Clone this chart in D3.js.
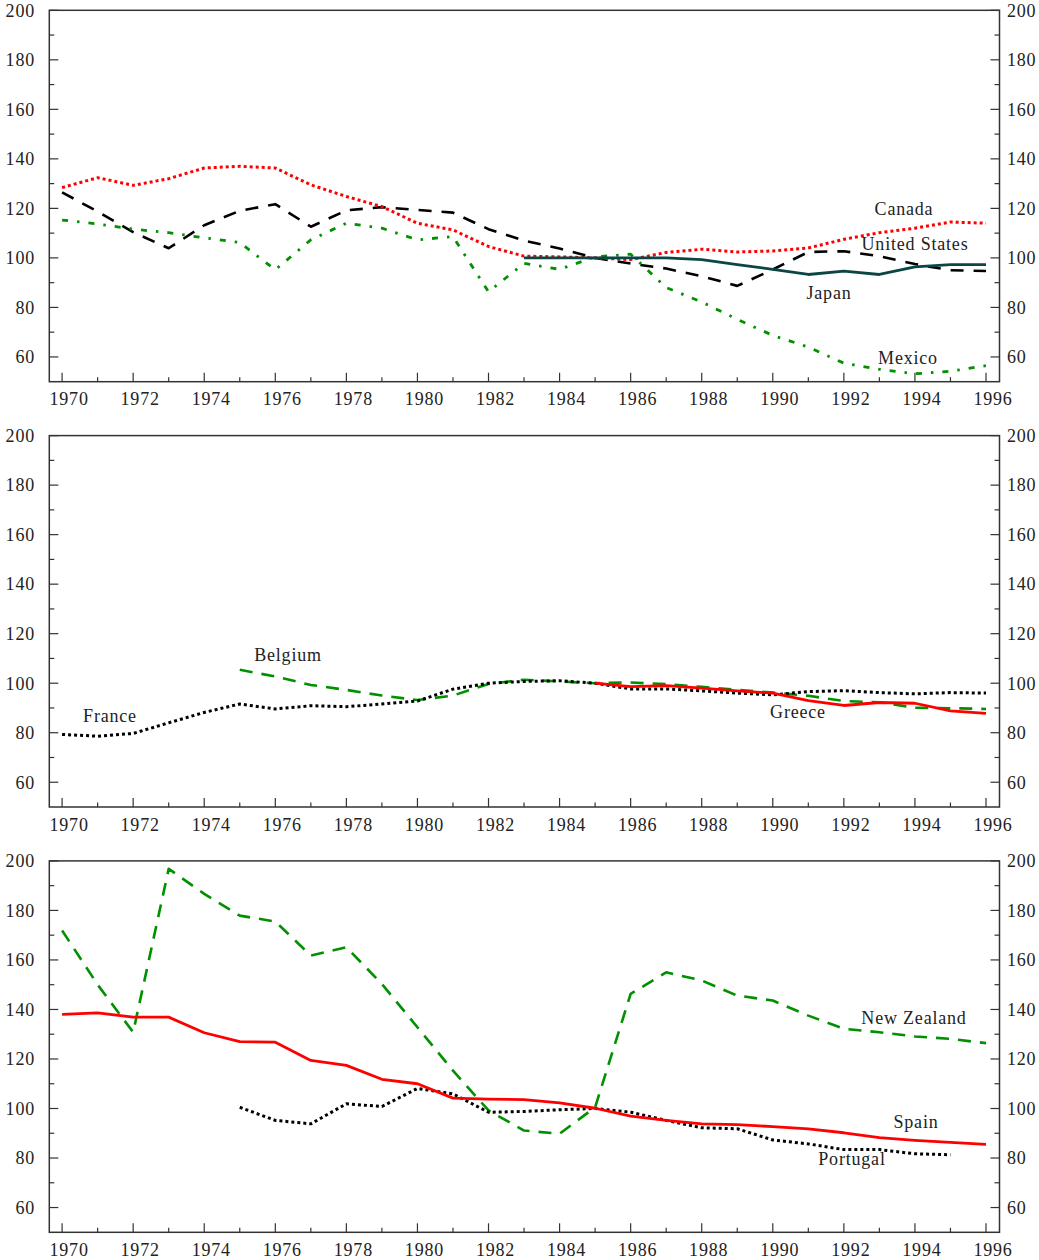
<!DOCTYPE html>
<html>
<head>
<meta charset="utf-8">
<script src="https://cdn.jsdelivr.net/npm/d3@7/dist/d3.min.js"></script>
<style>
  html, body { margin: 0; padding: 0; background: #fff; }
  svg { display: block; }
  text { font-family: "Liberation Serif", "DejaVu Serif", serif; fill: #222; }
</style>
</head>
<body>
<svg id="chart" width="1039" height="1260"></svg>
<script>
// ---------- DATA ----------
const yearTicks = [1970,1972,1974,1976,1978,1980,1982,1984,1986,1988,1990,1992,1994,1996];
const valueTicks = [60,80,100,120,140,160,180,200];

// Panel 1 (start 1970 unless noted)
const canada = [128.4,132.4,129.3,132,136.3,137,136.3,129.5,124.8,120.7,114,111.3,104.6,
                100.7,100.4,100,99.3,102.2,103.5,102.4,102.8,104,107.5,110.2,112,114.5,114];
const unitedStates = [126.5,118.7,110.4,103.9,113.2,119,121.7,112.6,119.2,120.5,119.4,118.3,111.6,
                      107,103.8,100,97.7,95.7,92.6,88.7,95.3,102.4,102.7,100.7,97.5,95,94.7];
const japan = [100,100,100,100,100,99.3,97.3,95.4,93.3,94.7,93.3,96.4,97.3,97.3]; // from 1983
const mexico = [115.3,113.7,111.6,110.2,108.1,106.2,95.2,107.3,114,112,107.3,108.6,86.3,
                97.8,95.4,100.4,101.5,88,82.2,75.2,68.7,64,57.5,55,53.2,54.2,56.5];

// Panel 2
const france = [79.3,78.6,79.7,84,88.2,91.6,89.6,90.9,90.5,91.6,92.8,97.6,100,100.7,
                101,100,97.7,97.7,96.9,96,95.3,96.6,97,96.2,95.7,96.2,96];
const belgium = [105.4,102.7,99.3,97.3,95,93.2,95,99.7,101.4,100.7,100,100.3,99.6,98.5,
                 97.3,96.2,94.9,92.8,92.3,90.1,89.9,89.6]; // from 1975
const greece = [100,98.6,99,98,96.9,96,93,91,92.2,91.9,88.8,87.8]; // from 1985

// Panel 3
const newZealand = [171.9,150,130.8,196.8,186.7,177.9,175.5,161.8,165.1,150.3,132.8,115.3,99.2,91.1,
                    89.8,100.5,146.3,155,151.7,145.6,143.6,137.5,132.2,130.8,129.1,128.1,126.4];
const spain = [138,138.6,136.9,136.9,130.6,127,126.8,119.4,117.4,111.8,110,104.2,103.8,103.6,
               102.3,100.1,96.9,95.2,93.8,93.5,92.7,91.8,90.2,88.2,87.1,86.3,85.5];
const portugal = [100.5,95.2,93.8,101.9,100.8,108.1,105.9,98.5,98.8,99.5,100,98.5,95.2,92.2,
                  91.8,87.3,85.7,83.4,83.4,81.7,81.3]; // from 1975

// ---------- CONFIG ----------
const RED = "#ff0000", GREEN = "#009000", BLACK = "#000000", TEAL = "#0b4646";
const styles = {
  dotted:  { dash: "3,3", width: 3 },
  dashed:  { dash: "13,10", width: 2.6 },
  gdashed: { dash: "13,9", width: 2.6 },
  dashdot: { dash: "6,9,2.5,9", width: 2.8 },
  solid:   { dash: null, width: 2.8 }
};

const panels = [
  { series: [
      { name: "United States", start: 1970, values: unitedStates, color: BLACK, style: "dashed" },
      { name: "Mexico", start: 1970, values: mexico, color: GREEN, style: "dashdot" },
      { name: "Canada", start: 1970, values: canada, color: RED, style: "dotted" },
      { name: "Japan", start: 1983, values: japan, color: TEAL, style: "solid" }
    ],
    labels: [
      { text: "Canada", x: 904, y: 215 },
      { text: "United States", x: 915, y: 250 },
      { text: "Japan", x: 829, y: 299 },
      { text: "Mexico", x: 908, y: 364 }
    ] },
  { series: [
      { name: "Belgium", start: 1975, values: belgium, color: GREEN, style: "gdashed" },
      { name: "France", start: 1970, values: france, color: BLACK, style: "dotted" },
      { name: "Greece", start: 1985, values: greece, color: RED, style: "solid" }
    ],
    labels: [
      { text: "Belgium", x: 288, y: 661 },
      { text: "France", x: 110, y: 722 },
      { text: "Greece", x: 798, y: 718 }
    ] },
  { series: [
      { name: "New Zealand", start: 1970, values: newZealand, color: GREEN, style: "gdashed" },
      { name: "Portugal", start: 1975, values: portugal, color: BLACK, style: "dotted" },
      { name: "Spain", start: 1970, values: spain, color: RED, style: "solid" }
    ],
    labels: [
      { text: "New Zealand", x: 914, y: 1024 },
      { text: "Spain", x: 916, y: 1128 },
      { text: "Portugal", x: 852, y: 1165 }
    ] }
];

// ---------- DRAW ----------
const svg = d3.select("#chart");
const left = 49.3, right = 999.5;
const x = d3.scaleLinear().domain([1969.64, 1996.38]).range([left, right]);
const panelTop0 = 10.3, panelH = 371.4, panelStep = 425.3;

panels.forEach((p, i) => {
  const top = panelTop0 + i * panelStep, bottom = top + panelH;
  const y = d3.scaleLinear().domain([50, 200]).range([bottom, top]);
  const g = svg.append("g");

  // series
  const line = d3.line().x(d => x(d[0])).y(d => y(d[1])).curve(d3.curveLinear);
  p.series.forEach(s => {
    const pts = s.values.map((v, k) => [s.start + k, v]);
    const st = styles[s.style];
    g.append("path")
      .attr("d", line(pts))
      .attr("fill", "none")
      .attr("stroke", s.color)
      .attr("stroke-width", st.width)
      .attr("stroke-dasharray", st.dash)
      .attr("stroke-linejoin", "round");
  });

  // frame
  g.append("rect")
    .attr("x", left).attr("y", top)
    .attr("width", right - left).attr("height", bottom - top)
    .attr("fill", "none").attr("stroke", "#333").attr("stroke-width", 1.5);

  // y ticks (inside, both sides)
  const yMinor = d3.range(70, 200, 20);
  const tickColor = "#333";
  valueTicks.forEach(v => {
    g.append("line").attr("x1", left).attr("x2", left + 9).attr("y1", y(v)).attr("y2", y(v))
      .attr("stroke", tickColor).attr("stroke-width", 1.2);
    g.append("line").attr("x1", right).attr("x2", right - 9).attr("y1", y(v)).attr("y2", y(v))
      .attr("stroke", tickColor).attr("stroke-width", 1.2);
    g.append("text").attr("x", 35).attr("y", y(v)).attr("dy", "0.35em")
      .attr("text-anchor", "end").attr("font-size", 18).attr("letter-spacing", 0.8).text(v);
    g.append("text").attr("x", 1007).attr("y", y(v)).attr("dy", "0.35em")
      .attr("text-anchor", "start").attr("font-size", 18).attr("letter-spacing", 0.8).text(v);
  });
  yMinor.forEach(v => {
    g.append("line").attr("x1", left).attr("x2", left + 5).attr("y1", y(v)).attr("y2", y(v))
      .attr("stroke", tickColor).attr("stroke-width", 1.2);
    g.append("line").attr("x1", right).attr("x2", right - 5).attr("y1", y(v)).attr("y2", y(v))
      .attr("stroke", tickColor).attr("stroke-width", 1.2);
  });

  // x ticks (inside, bottom)
  d3.range(1970, 1997).forEach(yr => {
    const major = yr % 2 === 0;
    g.append("line").attr("x1", x(yr)).attr("x2", x(yr))
      .attr("y1", bottom).attr("y2", bottom - (major ? 9 : 4.5))
      .attr("stroke", tickColor).attr("stroke-width", 1.2);
  });
  yearTicks.forEach(yr => {
    g.append("text").attr("x", x(yr) + 7).attr("y", bottom + 23.5)
      .attr("text-anchor", "middle").attr("font-size", 18).attr("letter-spacing", 0.8).text(yr);
  });

  // series labels
  p.labels.forEach(l => {
    g.append("text").attr("x", l.x).attr("y", l.y)
      .attr("text-anchor", "middle").attr("font-size", 18).attr("letter-spacing", 0.8)
      .text(l.text);
  });
});
</script>
</body>
</html>
